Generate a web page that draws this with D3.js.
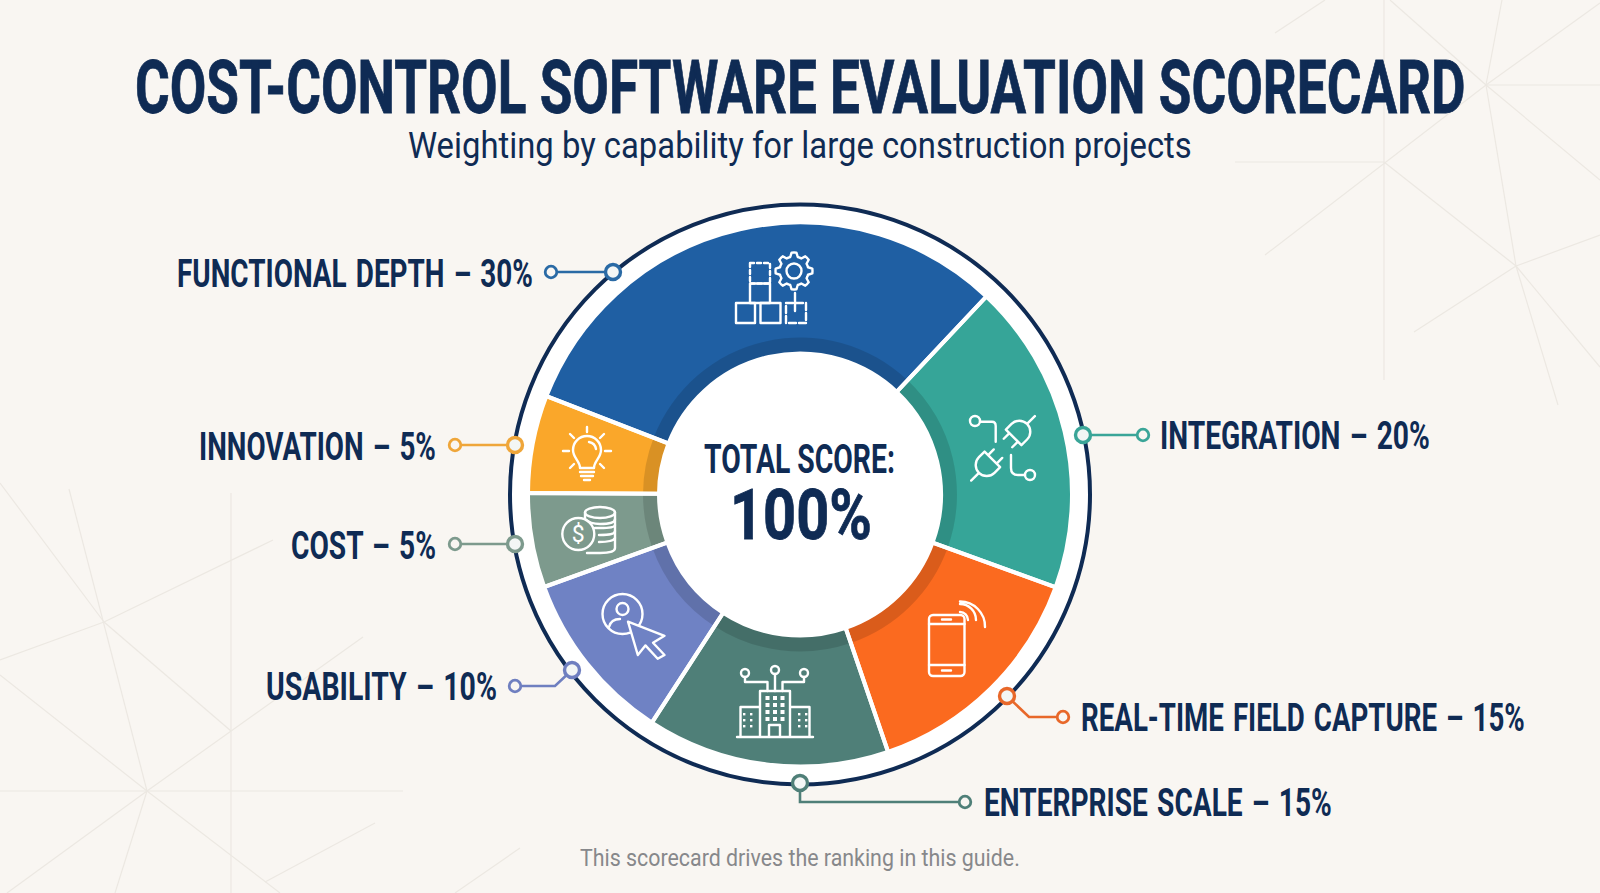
<!DOCTYPE html>
<html>
<head>
<meta charset="utf-8">
<script src="https://cdn.jsdelivr.net/npm/d3@7"></script>
<style>
  html, body { margin: 0; padding: 0; background: #f9f6f2; }
  svg { display: block; }
  text { font-family: "Roboto", sans-serif; }
</style>
</head>
<body>
<div id="chart"></div>
<script>
// Datos
const categories = ["FUNCTIONAL DEPTH", "INTEGRATION", "REAL-TIME FIELD CAPTURE", "ENTERPRISE SCALE", "USABILITY", "COST", "INNOVATION"];
const weights = [30, 20, 15, 15, 10, 5, 5];
// share of the circle each slice really takes in the picture (a bit off the printed weights)
const sliceShares = [31.1, 18.5, 14.2, 14.4, 10.3, 5.6, 5.8];
const sliceColors = ["#1f5fa3", "#36a598", "#fb6a1f", "#4f7f78", "#6f82c4", "#7d9a8d", "#faa72a"];
const lineColors = ["#2a6aa5", "#3aa598", "#e8682a", "#4f7f78", "#6f7fc0", "#7d9a8d", "#efa63a"];
const titleText = "COST-CONTROL SOFTWARE EVALUATION SCORECARD";
const subtitleText = "Weighting by capability for large construction projects";
const footerText = "This scorecard drives the ranking in this guide.";
const centerLabel = "TOTAL SCORE:";
const centerValue = "100%";

const width = 1600, height = 893;
const cx = 800, cy = 494.5;
const navy = "#0f2b54", bg = "#f9f6f2";

const svg = d3.select("#chart").append("svg")
    .attr("width", width)
    .attr("height", height);

svg.append("rect").attr("width", width).attr("height", height).attr("fill", bg);

// Lineas de fondo
const bgLines = [
  [147,791,69,489],[0,791,403,791],[147,791,363,637],[147,791,7,893],[147,791,115,893],[147,791,280,893],[147,791,0,675],
  [104,622,0,660],[104,622,273,540],[104,622,0,483],[104,622,231,731],[231,493,231,893],[265,882,375,823],[455,893,520,848],
  [1384,0,1384,380],[1235,162,1384,162],[1265,255,1486,85],[1384,162,1516,266],
  [1486,85,1502,0],[1486,85,1600,3],[1486,85,1600,85],[1486,85,1600,180],[1486,85,1516,266],[1486,85,1390,0],
  [1516,266,1600,235],[1516,266,1414,332],[1516,266,1600,367],[1516,266,1558,405],[1275,33,1325,0]
];
svg.append("g").selectAll("line").data(bgLines).enter().append("line")
    .attr("x1", d => d[0]).attr("y1", d => d[1])
    .attr("x2", d => d[2]).attr("y2", d => d[3])
    .attr("stroke", "#ece8e2")
    .attr("stroke-width", 1.2);

// squeeze a text horizontally so it runs from x1 to x2 (no condensed font installed)
function fitText(parent, str, x1, x2, y, size) {
  const t = parent.append("text").text(str).attr("font-size", size);
  return t.call(s => s.attr("transform", `translate(${x1},${y})`));
}
function squeeze(t, x1, x2, y) {
  const k = (x2 - x1) / t.node().getComputedTextLength();
  t.attr("transform", `translate(${x1},${y}) scale(${k},1)`);
  return t;
}

// Titulos
squeeze(fitText(svg, titleText, 135, 1466, 112.5, 74)
    .attr("font-weight", 700).attr("fill", navy).attr("stroke", navy).attr("stroke-width", 0.8), 135, 1466, 112.5);
squeeze(fitText(svg, subtitleText, 408, 1192, 158, 36.5).attr("fill", navy), 408, 1192, 158);
squeeze(fitText(svg, footerText, 580, 1020, 866, 24).attr("fill", "#87888b"), 580, 1020, 866);

// Disco y anillo
const chart = svg.append("g").attr("transform", `translate(${cx},${cy})`);
chart.append("circle").attr("r", 290).attr("fill", "#fff").attr("stroke", navy).attr("stroke-width", 4);

// the blue slice starts at 291 deg and comes first going clockwise
const pie = d3.pie()
    .sort(null)
    .value(d => d.share)
    .startAngle(-68.8 * Math.PI / 180)
    .endAngle(291.2 * Math.PI / 180);

const table = categories.map((c, i) => ({ name: c, weight: weights[i], share: sliceShares[i], color: sliceColors[i], line: lineColors[i] }));
const arcs = pie(table);

const sliceArc = d3.arc().innerRadius(141).outerRadius(272);
const bandArc = d3.arc().innerRadius(141).outerRadius(157);

chart.append("g").selectAll("path").data(arcs).enter().append("path")
    .attr("d", sliceArc)
    .attr("fill", d => d.data.color);
chart.append("g").selectAll("path").data(arcs).enter().append("path")
    .attr("d", bandArc)
    .attr("fill", "#000")
    .attr("opacity", 0.13);
chart.append("g").selectAll("path").data(arcs).enter().append("path")
    .attr("d", sliceArc)
    .attr("fill", "none")
    .attr("stroke", "#fff")
    .attr("stroke-width", 4);

// Texto central
squeeze(fitText(svg, centerLabel, 704, 895, 472.5, 41).attr("font-weight", 700).attr("fill", navy), 704, 895, 472.5);
squeeze(fitText(svg, centerValue, 730, 872, 539, 71).attr("font-weight", 700).attr("fill", navy)
    .attr("stroke", navy).attr("stroke-width", 0.8), 730, 872, 539);

// Etiquetas y conectores (mismo orden que categories)
const callouts = [
  { x1: 177, x2: 533, y: 286.5, path: [[613,272],[551,272]] },
  { x1: 1160, x2: 1430, y: 449, path: [[1083,435],[1143,435]] },
  { x1: 1081, x2: 1525, y: 731, path: [[1007,696],[1029,717],[1063,717]] },
  { x1: 984, x2: 1332, y: 816, path: [[800,783],[800,802],[965,802]] },
  { x1: 266, x2: 497, y: 700, path: [[572,670],[555,686],[515,686]] },
  { x1: 291, x2: 436, y: 559, path: [[515,544],[455,544]] },
  { x1: 199, x2: 436, y: 460, path: [[515,445],[455,445]] }
];
const line = d3.line();
table.forEach((d, i) => {
  const c = callouts[i];
  const g = svg.append("g");
  g.append("path").attr("d", line(c.path)).attr("fill", "none").attr("stroke", d.line).attr("stroke-width", 2.6);
  g.append("circle").attr("cx", c.path[0][0]).attr("cy", c.path[0][1]).attr("r", 7.5)
      .attr("fill", "#f3f6f5").attr("stroke", d.line).attr("stroke-width", 3.4);
  const end = c.path[c.path.length - 1];
  g.append("circle").attr("cx", end[0]).attr("cy", end[1]).attr("r", 5.8)
      .attr("fill", bg).attr("stroke", d.line).attr("stroke-width", 2.8);
  const t = fitText(g, `${d.name} – ${d.weight}%`, c.x1, c.x2, c.y, 38)
      .attr("font-weight", 700).attr("fill", navy).attr("word-spacing", 3);
  squeeze(t, c.x1, c.x2, c.y);
});

// Iconos
function icon(x, y) {
  return svg.append("g")
      .attr("transform", `translate(${x},${y})`)
      .attr("fill", "none")
      .attr("stroke", "#fff")
      .attr("stroke-width", 2.4)
      .attr("stroke-linecap", "round")
      .attr("stroke-linejoin", "round");
}
function box(g, x, y, w, h, dash) {
  return g.append("rect").attr("x", x).attr("y", y).attr("width", w).attr("height", h).attr("stroke-dasharray", dash || null);
}
function ring(g, x, y, r) {
  return g.append("circle").attr("cx", x).attr("cy", y).attr("r", r);
}
function stroke(g, d) {
  return g.append("path").attr("d", d);
}

// bloques y engranaje
const i1 = icon(770, 293);
box(i1, -34, 10, 19, 20);
box(i1, -9.5, 10, 20, 20);
box(i1, -20, -9.5, 20, 19.5);
box(i1, -20, -30, 20, 20.5, "4 3");
box(i1, 16, 10, 20, 20, "7 3");
stroke(i1, "M25,0V18");
const gearPts = d3.range(48).map(k => {
  const a = k / 48 * 2 * Math.PI;
  const tooth = (k + 1) % 6 < 3;
  return [a, tooth ? 18.5 : 14.5];
});
i1.append("path")
    .attr("transform", "translate(24,-22)")
    .attr("d", d3.lineRadial().curve(d3.curveLinearClosed)(gearPts));
ring(i1, 24, -22, 7.5);

// enchufes
const i2 = icon(1003, 448);
ring(i2, -28, -27, 5);
stroke(i2, "M-23,-26.3H-11Q-7.3,-26.3 -7.3,-22V-6.3");
ring(i2, 27, 27, 5);
stroke(i2, "M8,7V20Q8,27 15,27H22");
const plugPath = "M-6,-16V-8M6,-16V-8M-11,-8H11V0A11,11 0 0 1 -11,0ZM0,11V22";
stroke(i2, plugPath).attr("transform", "translate(16.3,-16.3) rotate(225)");
stroke(i2, plugPath).attr("transform", "translate(-16.3,17) rotate(45)");

// bombilla
const i3 = icon(587, 452);
stroke(i3, "M-7,16C-7,9 -14,6 -14,-2A14,14 0 1 1 14,-2C14,6 7,9 7,16Z");
stroke(i3, "M-7,20H7M-6,24H6M-3,28H3");
stroke(i3, "M2,-10Q8,-9 9,-3");
stroke(i3, "M0,-25V-20M-24,-1H-18M18,-1H24M-17,-18L-13,-14M17,-18L13,-14M-17,16L-13,12M17,16L13,12");

// monedas
const i4 = icon(595, 530);
i4.append("ellipse").attr("cx", 5).attr("cy", -17.5).attr("rx", 15).attr("ry", 5.5);
stroke(i4, "M-10,-17.5V-6M20,-17.5V18Q20,23 5,23H-8");
stroke(i4, "M-10,-11Q-5,-6 5,-6Q20,-6 20,-11M0,-2H5Q20,-2 20,-5M4,5H5Q20,5 20,1M4,12Q18,12 20,8");
ring(i4, -16.7, 4, 16).attr("fill", sliceColors[5]);
i4.append("text").text("$")
    .attr("x", -16.7).attr("y", 12).attr("text-anchor", "middle")
    .attr("font-size", 23).attr("fill", "#fff").attr("stroke", "none");

// usuario y cursor
const i5 = icon(640, 630);
ring(i5, -17.5, -16, 20);
ring(i5, -17.5, -21, 6);
stroke(i5, "M-31,-3Q-29,-11 -20,-11");
i5.append("path")
    .attr("d", "M-12,-8.3L24.5,5.8L13,12.7L24.5,25L17.7,28.8L5.4,15.4L-2.2,25Z")
    .attr("fill", sliceColors[4]);

// edificio
const i6 = icon(775, 705);
stroke(i6, "M-38,32H38M-15,32V-14H15V32M-34.5,32V2H-15M34.5,32V2H15M-6,32V20H5V32");
ring(i6, -30, -32, 4);
ring(i6, 0, -35, 4);
ring(i6, 29, -32, 4);
stroke(i6, "M-30,-28V-23H-7.5V-14M0,-31V-14M29,-28V-23H7.5V-14");
d3.range(4).forEach(r => d3.range(3).forEach(k => {
  box(i6, -9.5 + k * 7.5, -9 + r * 7, 4, 4).attr("fill", "#fff").attr("stroke", "none");
}));
[-31, -24, 24, 31].forEach(x => [9, 15, 21].forEach(y => {
  box(i6, x - 1, y - 1, 2.4, 2.4).attr("fill", "#fff").attr("stroke", "none");
}));

// telefono
const i7 = icon(947, 645);
i7.append("rect").attr("x", -18).attr("y", -30).attr("width", 35.5).attr("height", 61).attr("rx", 4);
stroke(i7, "M-18,-21H17.5M-18,20H17.5M-5,-25.5H4M-5,25.5H4");
stroke(i7, "M13,-33A8,8 0 0 1 21,-25M13,-41A16,16 0 0 1 29,-25M13,-43.5A25,25 0 0 1 38,-18");
</script>
</body>
</html>
